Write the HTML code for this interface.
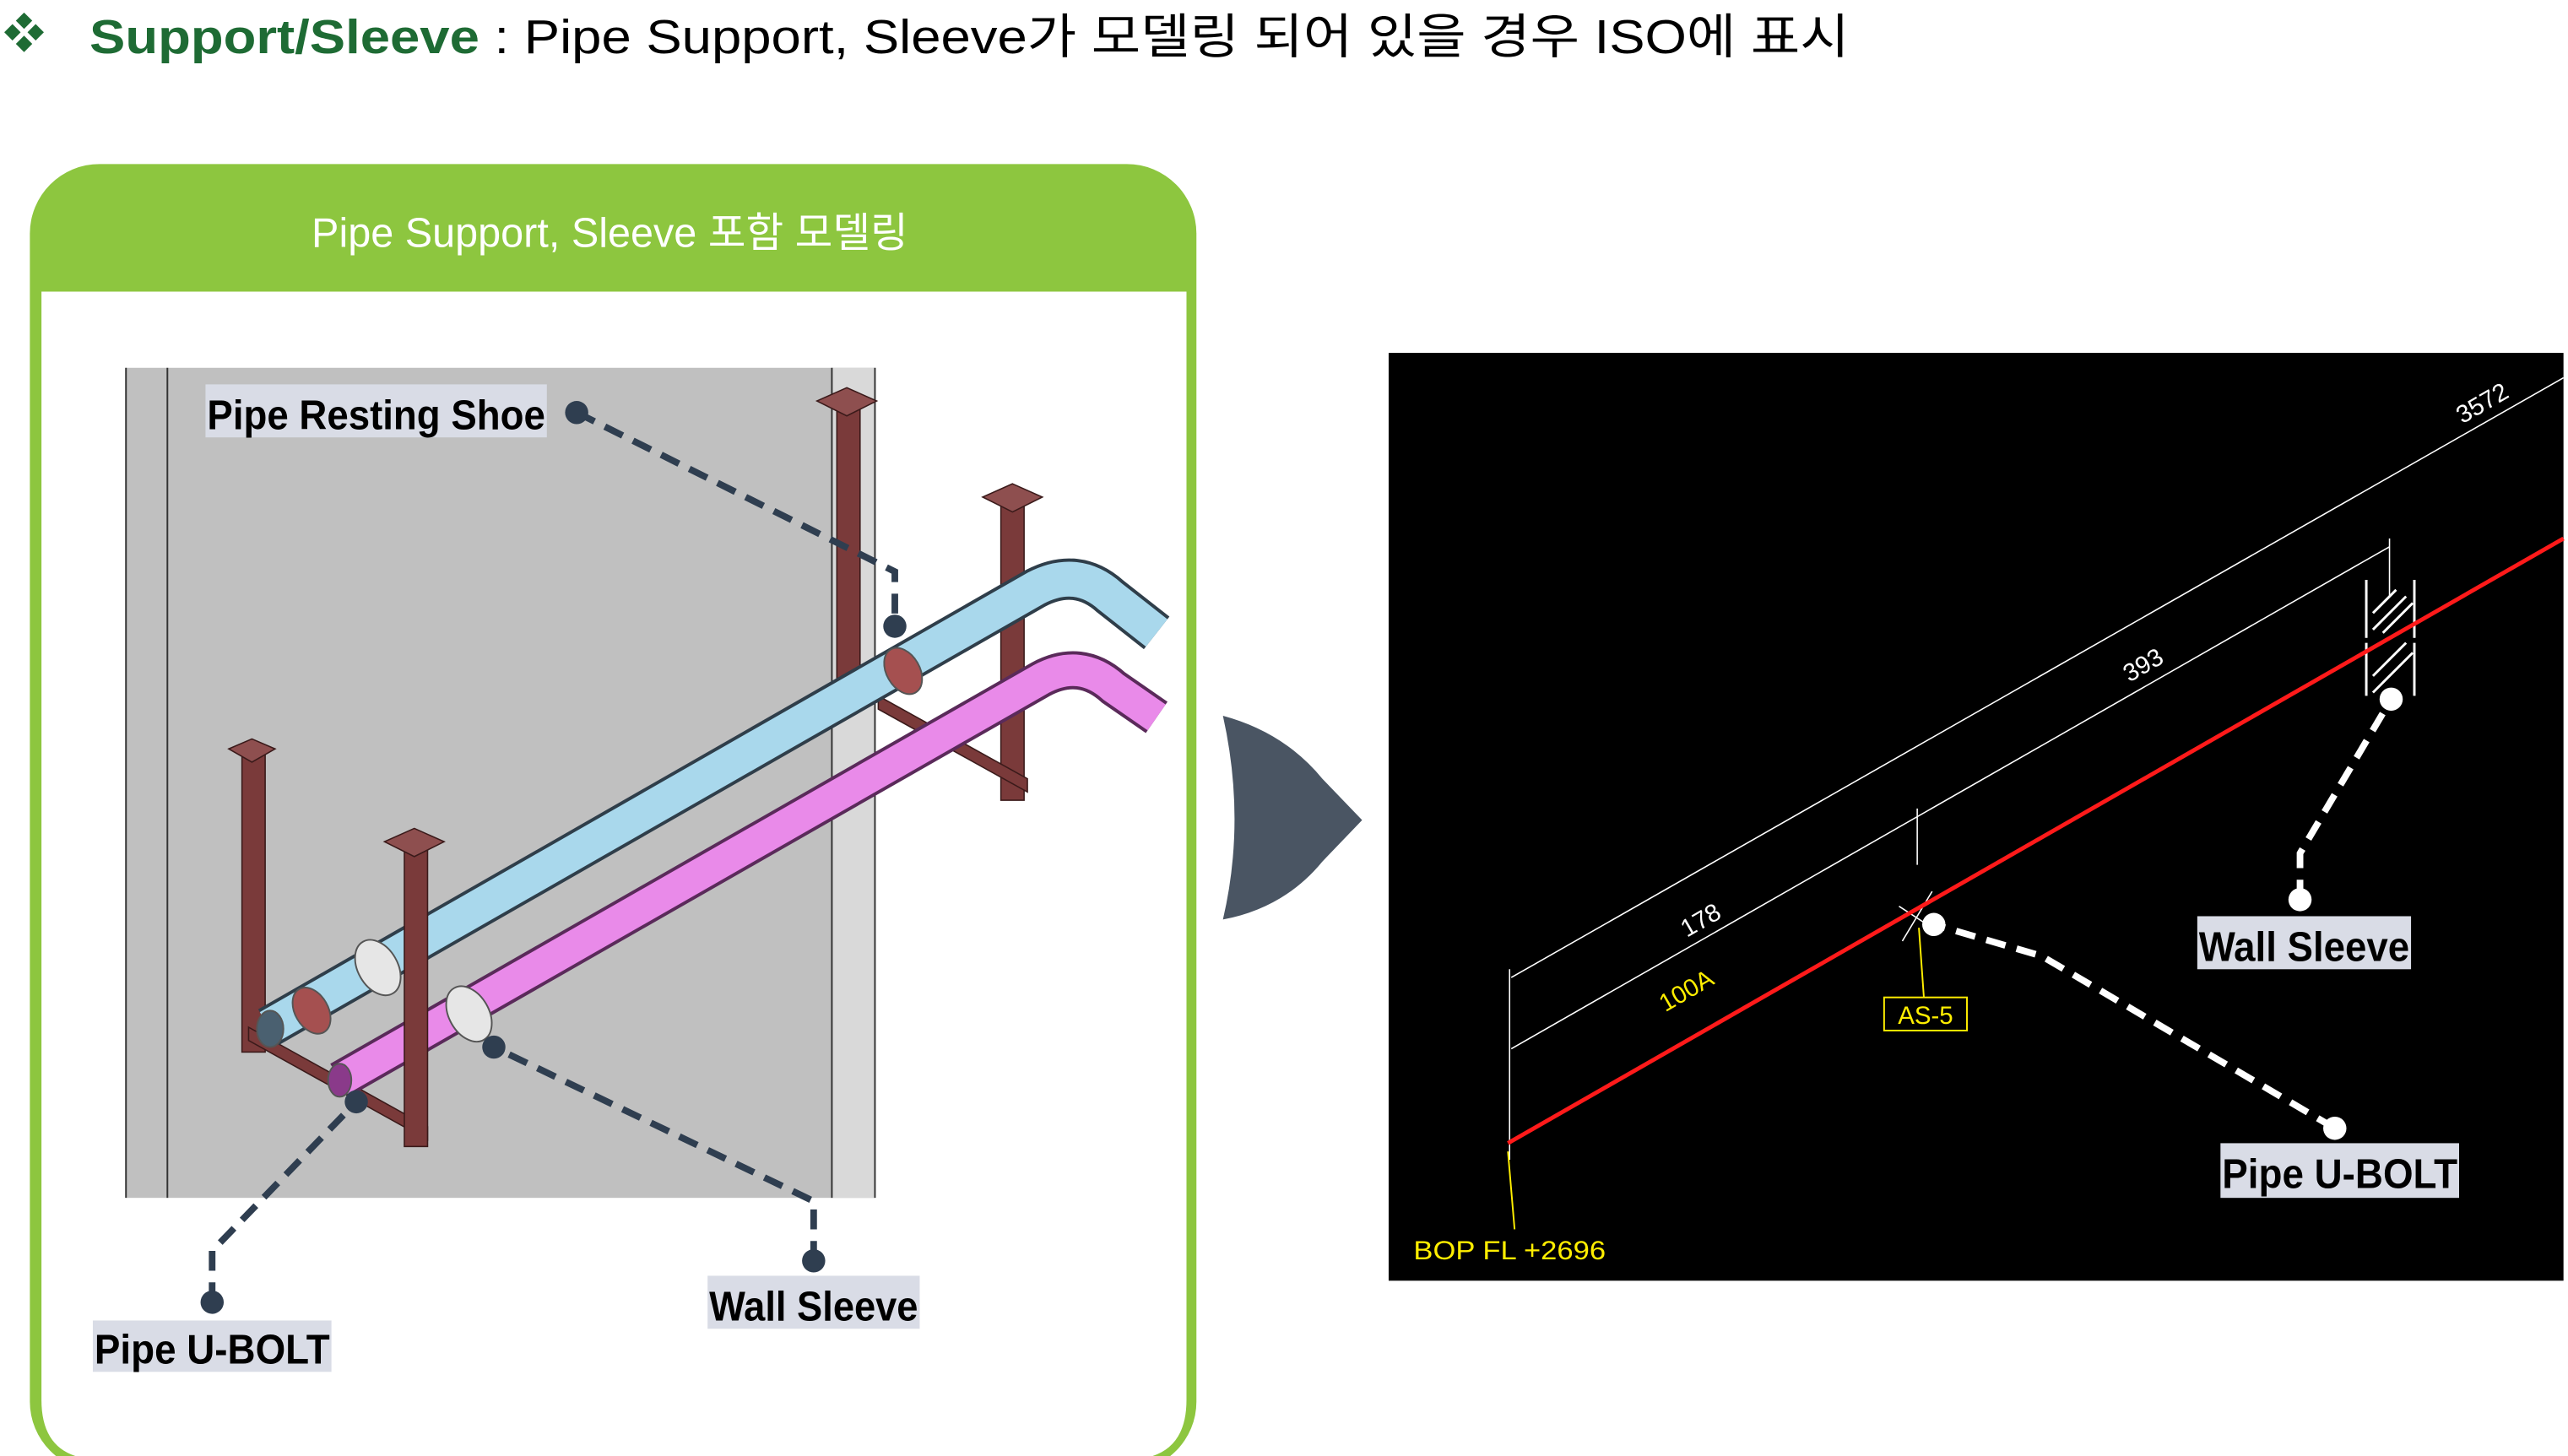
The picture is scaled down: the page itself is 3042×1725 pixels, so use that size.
<!DOCTYPE html>
<html><head><meta charset="utf-8"><style>
html,body{margin:0;padding:0;background:#fff;width:3042px;height:1725px;overflow:hidden}
svg{display:block}
text{font-family:"Liberation Sans","Noto Sans CJK KR",sans-serif}
</style></head><body>
<svg width="3042" height="1725" viewBox="0 0 1549.7 878.8" xmlns="http://www.w3.org/2000/svg">
<!-- title -->
<g fill="#1e6b34"><rect x="11" y="9" width="7" height="7" transform="rotate(45 14.5 12.5)"/><rect x="11" y="23" width="7" height="7" transform="rotate(45 14.5 26.5)"/><rect x="4" y="16" width="7" height="7" transform="rotate(45 7.5 19.5)"/><rect x="18" y="16" width="7" height="7" transform="rotate(45 21.5 19.5)"/></g>
<text x="54" y="32" font-size="29" textLength="1062" lengthAdjust="spacingAndGlyphs"><tspan fill="#1e6b34" font-weight="bold">Support/Sleeve</tspan><tspan fill="#000"> : Pipe Support, Sleeve가 모델링 되어 있을 경우 ISO에 표시</tspan></text>
<!-- left panel -->
<rect x="18" y="99" width="704" height="789" rx="42" fill="#8dc63f"/>
<path d="M25 176 H716 V845 Q716 881 680 881 H61 Q25 881 25 845Z" fill="#fff"/>
<text x="368" y="149" font-size="25" fill="#fff" text-anchor="middle" textLength="360" lengthAdjust="spacingAndGlyphs">Pipe Support, Sleeve 포함 모델링</text>
<!-- wall -->
<rect x="76" y="222" width="452" height="501" fill="#c0c0c0"/>
<rect x="502" y="222" width="26" height="501" fill="#d9d9d9"/>
<line x1="76" y1="222" x2="76" y2="723" stroke="#333" stroke-width="1"/>
<line x1="101" y1="222" x2="101" y2="723" stroke="#333" stroke-width="1"/>
<line x1="502" y1="222" x2="502" y2="723" stroke="#333" stroke-width="1"/>
<line x1="528" y1="222" x2="528" y2="723" stroke="#333" stroke-width="1"/>
<!-- posts back -->
<g fill="#7a3a3a" stroke="#3a1a1a" stroke-width="0.8">
<rect x="505" y="245" width="14" height="170"/>
<rect x="604" y="303" width="14" height="180"/>
<rect x="146" y="455" width="14" height="180"/>
<path d="M530 420 L620 470 L620 478 L530 428Z"/>
<path d="M150 620 L258 680 L258 688 L150 628Z"/>
</g>
<!-- pipes -->
<g fill="none" stroke-linecap="butt">
<path d="M162 620 L625 355 Q650 342 670 360 L698 382" stroke="#2f3e4a" stroke-width="25"/>
<path d="M162 620 L625 355 Q650 342 670 360 L698 382" stroke="#a9d8ec" stroke-width="21"/>
<path d="M205 652 L628 410 Q652 397 672 415 L698 433" stroke="#5a2a5a" stroke-width="23"/>
<path d="M205 652 L628 410 Q652 397 672 415 L698 433" stroke="#e98ae9" stroke-width="19"/>
</g>
<g stroke="#555" stroke-width="1">
<ellipse cx="228" cy="584" rx="12" ry="18" fill="#e6e6e6" transform="rotate(-30 228 584)"/>
<ellipse cx="283" cy="612" rx="12" ry="18" fill="#e6e6e6" transform="rotate(-30 283 612)"/>
<ellipse cx="188" cy="610" rx="10" ry="15" fill="#a55050" transform="rotate(-30 188 610)"/>
<ellipse cx="545" cy="405" rx="10" ry="15" fill="#a55050" transform="rotate(-30 545 405)"/>
<ellipse cx="163" cy="621" rx="8" ry="11" fill="#4a6070"/>
<ellipse cx="205" cy="652" rx="7" ry="10" fill="#8a3a8a"/>
</g>
<!-- posts front -->
<g fill="#7a3a3a" stroke="#3a1a1a" stroke-width="0.8">
<rect x="244" y="510" width="14" height="182"/>
<path d="M152 446 L166 452 L152 460 L138 452Z" fill="#8e4f4f"/>
<path d="M250 500 L268 508 L250 517 L232 508Z" fill="#8e4f4f"/>
<path d="M511 234 L529 242 L511 251 L493 242Z" fill="#8e4f4f"/>
<path d="M611 292 L629 300 L611 309 L593 300Z" fill="#8e4f4f"/>
</g>
<!-- left labels -->
<g stroke="#2f3e50" stroke-width="4" fill="none" stroke-dasharray="12 7">
<path d="M348 249 L540 345 L540 378"/>
<path d="M128 786 L128 755 L215 665"/>
<path d="M491 761 L491 725 L298 632"/>
</g>
<g fill="#2f3e50"><circle cx="348" cy="249" r="7"/><circle cx="540" cy="378" r="7"/><circle cx="128" cy="786" r="7"/><circle cx="215" cy="665" r="7"/><circle cx="491" cy="761" r="7"/><circle cx="298" cy="632" r="7"/></g>
<rect x="124" y="232" width="206" height="32" fill="#d9dce6"/>
<text x="125" y="259" font-size="25" font-weight="bold" textLength="204" lengthAdjust="spacingAndGlyphs">Pipe Resting Shoe</text>
<rect x="56" y="797" width="144" height="31" fill="#d9dce6"/>
<text x="57" y="823" font-size="25" font-weight="bold" textLength="142" lengthAdjust="spacingAndGlyphs">Pipe U-BOLT</text>
<rect x="427" y="770" width="128" height="32" fill="#d9dce6"/>
<text x="428" y="797" font-size="25" font-weight="bold" textLength="126" lengthAdjust="spacingAndGlyphs">Wall Sleeve</text>
<!-- arrow -->
<path d="M738 432 Q775 442 798 470 L822 495 L798 520 Q775 548 738 555 Q752 495 738 432Z" fill="#4a5563"/>
<!-- right box -->
<rect x="838" y="213" width="709" height="560" fill="#000"/>
<g stroke="#fff" stroke-width="0.8" fill="none">
<line x1="912" y1="590" x2="1547" y2="228"/>
<line x1="912" y1="633" x2="1442" y2="330"/>
<line x1="911" y1="585" x2="911" y2="700"/>
<line x1="1157" y1="488" x2="1157" y2="522"/>
<line x1="1442" y1="325" x2="1442" y2="360"/>
<line x1="1148" y1="568" x2="1166" y2="538"/>
<line x1="1146" y1="547" x2="1166" y2="560"/>
</g>
<g stroke="#fff" stroke-width="1.5" fill="none">
<path d="M1428 350 v35 M1457 350 v35 M1428 388 v32 M1457 388 v32"/>
<path d="M1432 380 l20 -20 M1438 382 l18 -18 M1432 370 l14 -14 M1432 408 l20 -20 M1438 412 l18 -18 M1432 418 l14 -14"/>
</g>
<line x1="910" y1="690" x2="1547" y2="325" stroke="#ff1a1a" stroke-width="2.5"/>
<g fill="#fff" font-size="15" font-family="'Liberation Mono',monospace">
<text x="1486" y="256" transform="rotate(-30 1486 256)">3572</text>
<text x="1285" y="412" transform="rotate(-30 1285 412)">393</text>
<text x="1018" y="566" transform="rotate(-30 1018 566)">178</text>
</g>
<text x="1005" y="611" fill="#ffee00" font-size="15" transform="rotate(-30 1005 611)">100A</text>
<g stroke="#ffee00" stroke-width="1" fill="none">
<line x1="1158" y1="560" x2="1161" y2="602"/>
<rect x="1137" y="602" width="50" height="20"/>
<line x1="910" y1="695" x2="914" y2="742"/>
</g>
<text x="1162" y="618" fill="#ffee00" font-size="15" text-anchor="middle" font-family="'Liberation Mono',monospace">AS-5</text>
<text x="853" y="760" fill="#ffee00" font-size="16" font-family="'Liberation Mono',monospace" textLength="116" lengthAdjust="spacingAndGlyphs">BOP FL +2696</text>
<g stroke="#fff" stroke-width="4" fill="none" stroke-dasharray="12 7">
<path d="M1388 543 L1388 515 L1443 422"/>
<path d="M1409 681 L1232 577 L1167 558"/>
</g>
<g fill="#fff"><circle cx="1388" cy="543" r="7"/><circle cx="1443" cy="422" r="7"/><circle cx="1409" cy="681" r="7"/><circle cx="1167" cy="558" r="7"/></g>
<rect x="1326" y="553" width="129" height="32" fill="#d9dce6"/>
<text x="1327" y="580" font-size="25" font-weight="bold" textLength="127" lengthAdjust="spacingAndGlyphs">Wall Sleeve</text>
<rect x="1340" y="690" width="144" height="33" fill="#d9dce6"/>
<text x="1341" y="717" font-size="25" font-weight="bold" textLength="142" lengthAdjust="spacingAndGlyphs">Pipe U-BOLT</text>
</svg>
</body></html>
